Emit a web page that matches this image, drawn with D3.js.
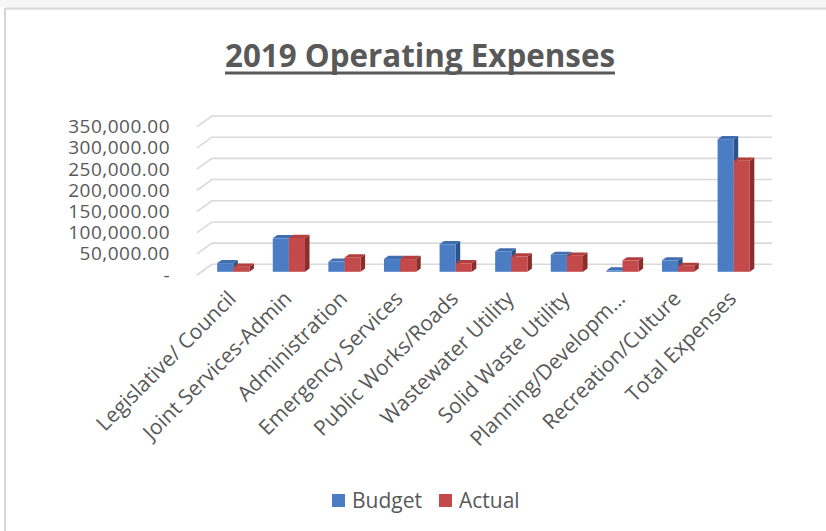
<!DOCTYPE html>
<html>
<head>
<meta charset="utf-8">
<script src="https://cdn.jsdelivr.net/npm/d3@7"></script>
<style>
  html, body { margin: 0; padding: 0; background: #fff; }
  svg { display: block; font-family: "Open Sans", sans-serif; }
</style>
</head>
<body>
<div id="chart"></div>
<script>
// values
const categories = ["Legislative/ Council", "Joint Services-Admin", "Administration", "Emergency Services",
  "Public Works/Roads", "Wastewater Utility", "Solid Waste Utility", "Planning/Developm...",
  "Recreation/Culture", "Total Expenses"];
const budget = [20500, 79000, 24000, 30000, 65000, 48000, 40000, 3000, 27000, 313000];
const actual = [12000, 80000, 34000, 30000, 20000, 36000, 38000, 27000, 14000, 262000];
const seriesNames = ["Budget", "Actual"];
const yTicks = [0, 50000, 100000, 150000, 200000, 250000, 300000, 350000];

const W = 826, H = 531;
const colors = {
  Budget: { front: "#4a7dc4", top: "#3f6eb0", side: "#2c5488" },
  Actual: { front: "#c4494a", top: "#b23f3e", side: "#8a2d2c" }
};
// depth of the back wall relative to the front plane
const depth = { x: 15, y: -10.7 };
const barDepth0 = 0.3, barDepth1 = 0.6;

const svg = d3.select("#chart").append("svg")
  .attr("width", W)
  .attr("height", H);

// chart frame
svg.append("rect").attr("x", 0).attr("y", 0).attr("width", W).attr("height", 7).attr("fill", "#f6f6f6");
svg.append("line").attr("x1", 5).attr("x2", W).attr("y1", 8.5).attr("y2", 8.5)
  .attr("stroke", "#d6d6d6").attr("stroke-width", 2);
svg.append("line").attr("x1", 5).attr("x2", 5).attr("y1", 8).attr("y2", H)
  .attr("stroke", "#d6d6d6").attr("stroke-width", 2);

// title
svg.append("text")
  .attr("x", 420).attr("y", 67)
  .attr("text-anchor", "middle")
  .attr("textLength", 390).attr("lengthAdjust", "spacingAndGlyphs")
  .style("font-size", "33px").style("font-weight", "bold")
  .attr("fill", "#595959")
  .text("2019 Operating Expenses");
svg.append("line").attr("x1", 225).attr("x2", 615).attr("y1", 73).attr("y2", 73)
  .attr("stroke", "#595959").attr("stroke-width", 3);

const x = d3.scaleBand().domain(categories).range([201, 757]).paddingInner(0.42).paddingOuter(0.21);
const xs = d3.scaleBand().domain(seriesNames).range([0, x.bandwidth()]);
const y = d3.scaleLinear().domain([0, 350000]).range([275, 126.7]);

// gridlines on the back wall plus the left wall slant
const grid = svg.append("g").attr("stroke", "#d9d9d9").attr("stroke-width", 1.6).attr("fill", "none");
yTicks.forEach(t => {
  const yy = y(t);
  grid.append("path").attr("d",
    `M197,${yy} L${197 + depth.x},${yy + depth.y} L${757 + depth.x},${yy + depth.y}`);
});

// y axis labels
const yAxis = d3.axisLeft(y)
  .tickValues(yTicks)
  .tickSize(0)
  .tickPadding(0)
  .tickFormat(d => d === 0 ? "-" : d3.format(",.2f")(d));
const yg = svg.append("g").attr("transform", "translate(170,0)").call(yAxis);
yg.select(".domain").remove();
yg.selectAll("text")
  .style("font-size", "19px")
  .style("letter-spacing", "0.5px")
  .style("font-family", "'Open Sans', sans-serif")
  .attr("fill", "#595959");

// 3D bars
const data = categories.map((c, i) => ({ cat: c, Budget: budget[i], Actual: actual[i] }));
const dx0 = depth.x * barDepth0, dy0 = depth.y * barDepth0;
const dd = { x: depth.x * (barDepth1 - barDepth0), y: depth.y * (barDepth1 - barDepth0) };

const bars = svg.append("g");
data.forEach(d => {
  seriesNames.forEach(s => {
    const x0 = x(d.cat) + xs(s) + dx0;
    const x1 = x0 + xs.bandwidth();
    const yb = y(0) + dy0;
    const yt = y(d[s]) + dy0;
    const c = colors[s];
    const g = bars.append("g");
    // side face
    g.append("path")
      .attr("d", `M${x1},${yb} L${x1 + dd.x},${yb + dd.y} L${x1 + dd.x},${yt + dd.y} L${x1},${yt} Z`)
      .attr("fill", c.side);
    // top face
    g.append("path")
      .attr("d", `M${x0},${yt} L${x0 + dd.x},${yt + dd.y} L${x1 + dd.x},${yt + dd.y} L${x1},${yt} Z`)
      .attr("fill", c.top);
    // front face
    g.append("rect")
      .attr("x", x0).attr("y", yt)
      .attr("width", x1 - x0).attr("height", Math.max(0, yb - yt))
      .attr("fill", c.front);
  });
});

// category labels, rotated
const xl = svg.append("g");
categories.forEach(c => {
  const cx = x(c) + x.bandwidth() / 2 + dx0;
  xl.append("text")
    .attr("transform", `translate(${cx + 4},${300}) rotate(-45)`)
    .attr("text-anchor", "end")
    .style("font-size", "21px")
    .attr("fill", "#595959")
    .text(c);
});

// legend
const legend = svg.append("g");
const legendItems = [{ name: "Budget", x: 332 }, { name: "Actual", x: 439 }];
legendItems.forEach(it => {
  legend.append("rect")
    .attr("x", it.x).attr("y", 494)
    .attr("width", 13).attr("height", 13)
    .attr("fill", colors[it.name].front);
  legend.append("text")
    .attr("x", it.x + 20).attr("y", 508)
    .style("font-size", "21px")
    .attr("fill", "#595959")
    .text(it.name);
});
</script>
</body>
</html>
